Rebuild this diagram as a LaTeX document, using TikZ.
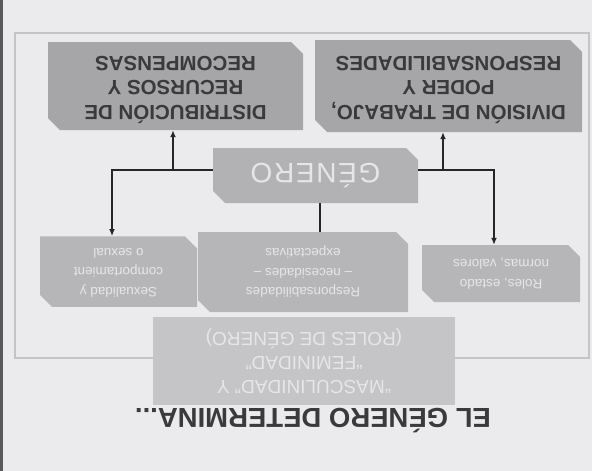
\documentclass[tikz,border=0pt]{standalone}
\usepackage{fontspec}
\setmainfont{Liberation Sans}
\newfontfamily\genfont[LetterSpace=6]{Liberation Sans}
\usepackage{graphicx}
\usetikzlibrary{shapes.misc,arrows.meta}
\definecolor{bgc}{HTML}{EBEBED}
\definecolor{framec}{HTML}{C4C4C6}
\definecolor{topc}{HTML}{A6A6A8}
\definecolor{genc}{HTML}{B2B2B4}
\definecolor{smallc}{HTML}{B6B6B8}
\definecolor{mascc}{HTML}{C5C5C7}
\definecolor{darktext}{HTML}{3A3A3C}
\definecolor{lighttext}{HTML}{E6E6E8}
\definecolor{linec}{HTML}{262626}
\newcommand{\flipt}[1]{\rotatebox[origin=c]{180}{\begin{tabular}{@{}c@{}}#1\end{tabular}}}
\begin{document}
\begin{tikzpicture}[x=1pt,y=-1pt,
  box/.style={chamfered rectangle, chamfered rectangle corners={north east,south west},
    chamfered rectangle sep=6pt, inner sep=0pt, draw=none},
  bigbox/.style={box, fill=topc, text=darktext, font=\fontsize{20.5}{24.5}\selectfont\bfseries},
  genbox/.style={box, fill=genc, text=lighttext, font=\fontsize{28}{32}\genfont},
  smallbox/.style={box, fill=smallc, text=lighttext, font=\fontsize{13.5}{19.5}\selectfont},
  mascbox/.style={rectangle, inner sep=0pt, fill=mascc, text=lighttext, font=\fontsize{19}{24}\selectfont},
  conn/.style={draw=linec, line width=1.4pt},
  arrow/.style={conn, -{Latex[length=7pt,width=6pt]}}]
\fill[bgc] (0,0) rectangle (592,471);
\useasboundingbox (0,0) rectangle (592,471);
\fill[black!65] (0,0) rectangle (3,471);
\draw[framec, line width=1.2pt] (15,33) rectangle (589,358);

\node[bigbox, minimum width=255pt, minimum height=88pt] (dist) at (175.5,86)
  {\flipt{DISTRIBUCIÓN DE\\RECURSOS Y\\RECOMPENSAS}};
\node[bigbox, minimum width=267pt, minimum height=92pt] (divi) at (448.5,86)
  {\flipt{DIVISIÓN DE TRABAJO,\\PODER Y\\RESPONSABILIDADES}};
\node[genbox, minimum width=205pt, minimum height=55pt] (gen) at (315.5,175.5)
  {\rotatebox[origin=c]{180}{GÉNERO}};
\node[smallbox, minimum width=157pt, minimum height=67pt] (sex) at (118.5,271.5)
  {\flipt{Sexualidad y\\comportamient\\o sexual}};
\node[smallbox, minimum width=210pt, minimum height=80pt] (resp) at (303,272)
  {\flipt{Responsabilidades\\– necesidades –\\expectativas}};
\node[smallbox, minimum width=158pt, minimum height=57pt] (roles) at (501,273.5)
  {\flipt{Roles, estado\\normas, valores}};
\node[mascbox, minimum width=302pt, minimum height=88pt] (masc) at (304,361)
  {\flipt{“MASCULINIDAD” Y\\“FEMINIDAD”\\(ROLES DE GÉNERO)}};
\node[text=darktext, font=\fontsize{27.5}{30}\selectfont\bfseries] (title) at (313,421)
  {\rotatebox[origin=c]{180}{EL GÉNERO DETERMINA...}};

\coordinate (hl) at (112,170);
\coordinate (hr) at (494,170);
\coordinate (al) at (173,170);
\coordinate (ar) at (443,170);
\coordinate (mv) at (320,215);

\draw[arrow] (gen.west |- hl) -- (hl) -- (hl |- sex.north);
\draw[arrow] (gen.east |- hr) -- (hr) -- (hr |- roles.north);
\draw[arrow] (al) -- (al |- dist.south);
\draw[arrow] (ar) -- (ar |- divi.south);
\draw[conn] (mv |- gen.south) -- (mv |- resp.north);
\end{tikzpicture}
\end{document}
